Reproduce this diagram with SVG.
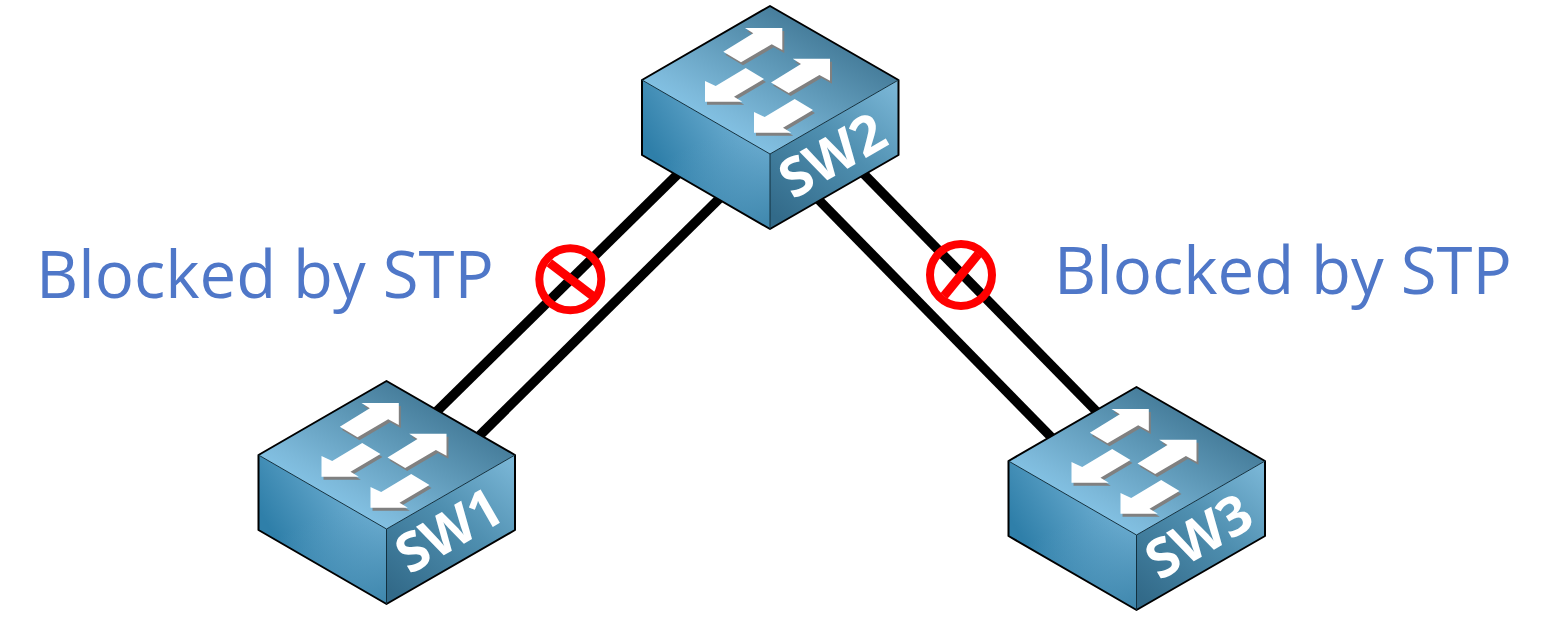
<svg xmlns="http://www.w3.org/2000/svg" width="1545" height="633" viewBox="0 0 1545 633">
<style>
.link{stroke:#000;stroke-width:9.5;fill:none}
.ban{stroke:#f00;fill:none}
.lbl{font-family:"Open Sans","Noto Sans",sans-serif;font-size:65.3px;fill:#4f77c8}
.sw{font-family:"Open Sans","Noto Sans",sans-serif;font-weight:700;font-size:54px;fill:#fff}
</style>
<defs>
<linearGradient id="gt" gradientUnits="userSpaceOnUse" x1="-64" y1="111" x2="0" y2="0"><stop offset="0" stop-color="#82c0e2"/><stop offset=".12" stop-color="#7db9da"/><stop offset=".6" stop-color="#5f99b8"/><stop offset="1" stop-color="#477e9c"/></linearGradient>
<linearGradient id="gl" gradientUnits="userSpaceOnUse" x1="-115" y1="150" x2="-15" y2="90"><stop offset="0" stop-color="#2f7fa9"/><stop offset="1" stop-color="#7dbadc"/></linearGradient>
<linearGradient id="gl2" gradientUnits="userSpaceOnUse" x1="-60" y1="130" x2="-10" y2="225"><stop offset="0" stop-color="#5c9fc4" stop-opacity="0"/><stop offset="1" stop-color="#3f87ad"/></linearGradient>
<linearGradient id="gr" gradientUnits="userSpaceOnUse" x1="10" y1="215" x2="125" y2="80"><stop offset="0" stop-color="#326a89"/><stop offset=".55" stop-color="#4f8fb0"/><stop offset="1" stop-color="#7ab6d6"/></linearGradient>
<polygon id="au" points="12.3,22 -25,22 -16.7,27.3 -46.7,45.7 -29,56.3 1.7,38.3 12.3,44"/>
<polygon id="ad" points="-65,95.7 -65,75 -54.3,80 -24.3,62 -6,73 -36,90.7 -27.7,95.7"/>
<g id="body">
<polygon points="0,0 128.5,74 0,148 -128,74" fill="url(#gt)"/>
<polygon points="-128,74 0,148 0,223 -128,149" fill="url(#gl)"/>
<polygon points="-128,74 0,148 0,223 -128,149" fill="url(#gl2)"/>
<polygon points="128.5,74 0,148 0,223 128.5,149" fill="url(#gr)"/>
<path d="M-128,74 L0,0 L128.5,74 V149 L0,223 L-128,149 Z" fill="none" stroke="#000" stroke-width="2" stroke-linejoin="round"/>
<path d="M-128,74 L0,148 L128.5,74 M0,148 V223" fill="none" stroke="#12303f" stroke-width="1"/>
<g fill="#808080">
<use href="#au" x="2" y="3"/><use href="#au" x="49.7" y="33.7"/><use href="#ad" x="2" y="3"/><use href="#ad" x="51" y="34"/>
</g>
<g fill="#fff">
<use href="#au"/><use href="#au" x="47.7" y="30.7"/><use href="#ad"/><use href="#ad" x="49" y="31"/>
</g>
</g>
</defs>
<g id="connectors">
<line class="link" x1="685" y1="167" x2="430" y2="418"/>
<line class="link" x1="727" y1="191" x2="472" y2="443"/>
<line class="link" x1="857" y1="167" x2="1102" y2="417"/>
<line class="link" x1="812" y1="193" x2="1057" y2="443"/>
</g>
<g id="SW2" transform="translate(770,6)"><use href="#body"/><text class="sw" transform="translate(23,194) rotate(-30)">SW2</text></g>
<g id="SW1" transform="translate(386.5,381)"><use href="#body"/><text class="sw" transform="translate(23,194) rotate(-30)">SW1</text></g>
<g id="SW3" transform="translate(1136.5,387)"><use href="#body"/><text class="sw" transform="translate(23,194) rotate(-30)">SW3</text></g>
<g id="block1"><circle class="ban" cx="570.3" cy="279.3" r="31" stroke-width="8"/><line class="ban" x1="549.3" y1="262.7" x2="592.7" y2="296" stroke-width="9"/></g>
<g id="block2"><circle class="ban" cx="961" cy="275" r="31" stroke-width="8"/><line class="ban" x1="978.3" y1="254" x2="944" y2="296" stroke-width="9"/></g>
<text id="label1" class="lbl" x="36" y="298">Blocked by STP</text>
<text id="label2" class="lbl" x="1054" y="294">Blocked by STP</text>
</svg>
